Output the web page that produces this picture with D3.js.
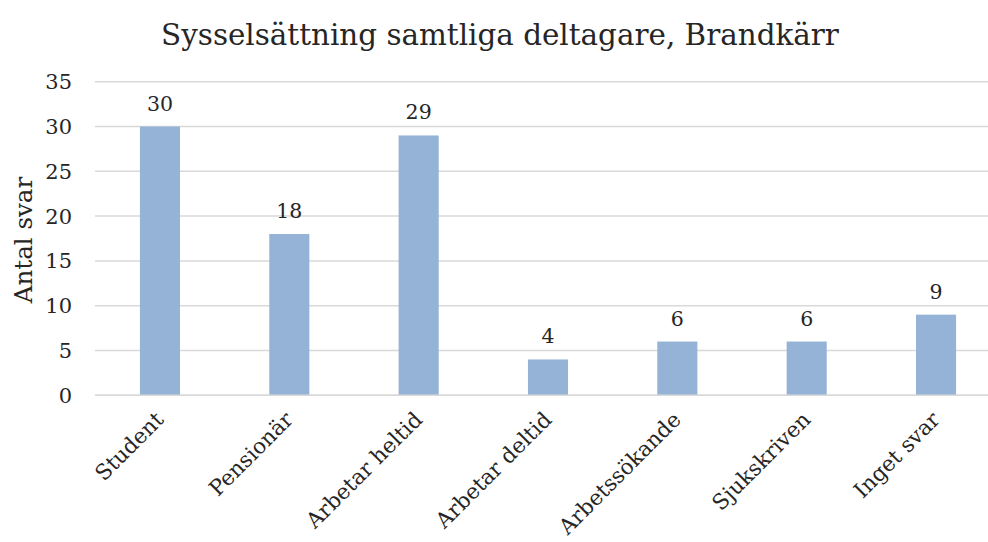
<!DOCTYPE html>
<html><head><meta charset="utf-8">
<script src="https://cdn.jsdelivr.net/npm/d3@7"></script>
<style>body{margin:0;background:#fff;} text{font-family:"DejaVu Serif",serif;fill:#262626;}</style>
</head><body>
<svg id="c" width="988" height="542"></svg>
<script>
const categories = ["Student","Pensionär","Arbetar heltid","Arbetar deltid","Arbetssökande","Sjukskriven","Inget svar"];
const values = [30,18,29,4,6,6,9];
const yTicks = [0,5,10,15,20,25,30,35];
const title = "Sysselsättning samtliga deltagare, Brandkärr";
const yTitle = "Antal svar";

const svg = d3.select("#c");
const x = d3.scaleBand().domain(categories).range([95.3, 1000.7]).paddingInner(0.69).paddingOuter(0.345);
const y = d3.scaleLinear().domain([0,35]).range([395.3, 81.7]);

svg.append("g").selectAll("line").data(yTicks).join("line")
  .attr("x1",95).attr("x2",988).attr("y1",d=>y(d)).attr("y2",d=>y(d))
  .attr("stroke","#d9d9d9").attr("stroke-width",1.5);

svg.append("g").selectAll("rect").data(values).join("rect")
  .attr("x",(d,i)=>x(categories[i])).attr("width",x.bandwidth())
  .attr("y",d=>y(d)).attr("height",d=>y(0)-y(d)).attr("fill","#95b3d7");

svg.append("line").attr("x1",95).attr("x2",988).attr("y1",y(0)).attr("y2",y(0))
  .attr("stroke","#d9d9d9").attr("stroke-width",1.5);

svg.append("g").selectAll("text").data(values).join("text")
  .attr("x",(d,i)=>x(categories[i])+x.bandwidth()/2).attr("y",d=>y(d)-16)
  .attr("text-anchor","middle").attr("font-size",20.5).text(d=>d);

svg.append("g").selectAll("text").data(yTicks).join("text")
  .attr("x",72).attr("y",d=>y(d)+7.5).attr("text-anchor","end").attr("font-size",21).text(d=>d);

svg.append("g").selectAll("text").data(categories).join("text")
  .attr("text-anchor","end").attr("font-size",21.5)
  .attr("transform",d=>`translate(${x(d)+x.bandwidth()/2+5},${421}) rotate(-45)`)
  .text(d=>d);

svg.append("text").attr("text-anchor","middle").attr("font-size",24.5)
  .attr("transform","translate(32,240) rotate(-90)").text(yTitle);

svg.append("text").attr("x",500).attr("y",45).attr("text-anchor","middle").attr("font-size",29.4).text(title);
</script>
</body></html>
